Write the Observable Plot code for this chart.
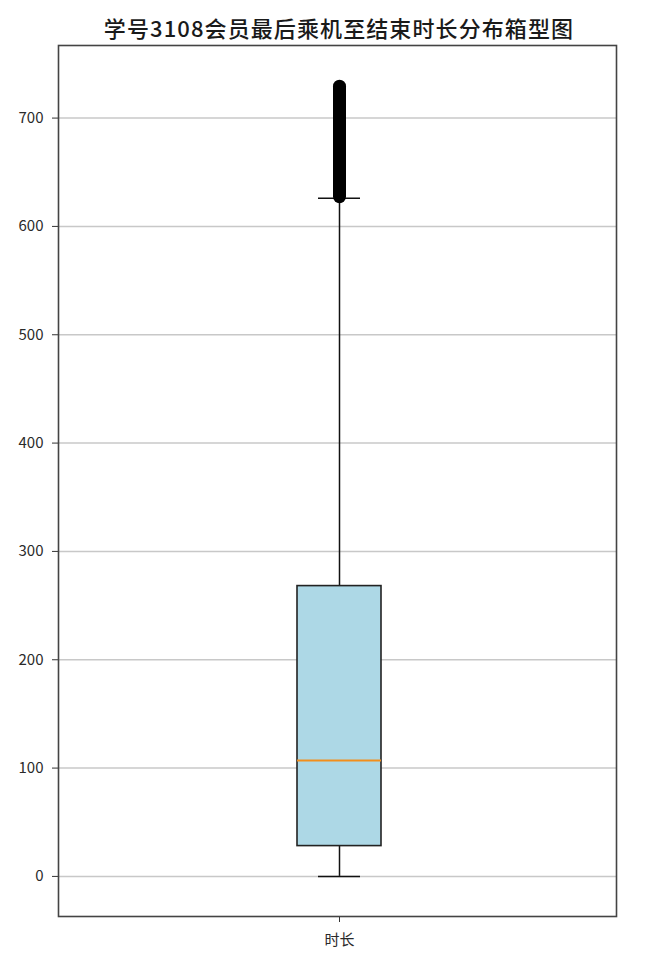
<!DOCTYPE html>
<html>
<head>
<meta charset="utf-8">
<script src="https://cdn.jsdelivr.net/npm/d3@7"></script>
<script src="https://cdn.jsdelivr.net/npm/@observablehq/plot@0.6"></script>
<style>
  body { margin: 0; background: #fff; }
  #title { height: 44px; width: 654px; text-align: center; font-family: "Noto Sans CJK SC", sans-serif; font-size: 22px; font-weight: 500; line-height: 22px; box-sizing: border-box; color: #1a1a1a; }
  #title span { position: relative; top: 16px; left: 12px; letter-spacing: 1.1px; }
</style>
</head>
<body>
<div id="title"><span>学号3108会员最后乘机至结束时长分布箱型图</span></div>
<div id="chart"></div>
<script>
const categories = ["时长"];
const q1 = [28];
const median = [107];
const q3 = [268];
const whiskerLow = [0];
const whiskerHigh = [626];
const outlierMin = [627];
const outlierMax = [729];
const yTicks = [0, 100, 200, 300, 400, 500, 600, 700];

const stats = categories.map((c, i) => ({
  cat: c, q1: q1[i], median: median[i], q3: q3[i],
  lo: whiskerLow[i], hi: whiskerHigh[i],
  oMin: outlierMin[i], oMax: outlierMax[i]
}));

const plot = Plot.plot({
  width: 654,
  height: 921,
  marginLeft: 58,
  marginRight: 38,
  marginTop: 1,
  marginBottom: 49,
  style: { fontFamily: "'Noto Sans CJK SC', sans-serif", fontSize: "15px", color: "#2a2a2a", background: "#fff" },
  x: { type: "band", domain: categories, paddingInner: 0, paddingOuter: 2.82, align: 0.504, label: null },
  y: { domain: [-37, 767], label: null },
  marks: [
    Plot.ruleY(yTicks, { stroke: "#c8c8c8", strokeWidth: 1.5 }),
    Plot.ruleX(stats, { x: "cat", y1: "lo", y2: "q1", stroke: "#111", strokeWidth: 1.5 }),
    Plot.ruleX(stats, { x: "cat", y1: "q3", y2: "hi", stroke: "#111", strokeWidth: 1.5 }),
    Plot.tickY(stats, { x: "cat", y: "lo", stroke: "#111", strokeWidth: 1.5, insetLeft: 21, insetRight: 21 }),
    Plot.tickY(stats, { x: "cat", y: "hi", stroke: "#111", strokeWidth: 1.5, insetLeft: 21, insetRight: 21 }),
    Plot.barY(stats, { x: "cat", y1: "q1", y2: "q3", fill: "#add8e6", stroke: "#222", strokeWidth: 1.6 }),
    Plot.tickY(stats, { x: "cat", y: "median", stroke: "#f28e1c", strokeWidth: 1.8 }),
    Plot.ruleX(stats, { x: "cat", y1: "oMin", y2: "oMax", stroke: "#000", strokeWidth: 13, strokeLinecap: "round" }),
    Plot.axisY({ ticks: yTicks, tickSize: 6, tickPadding: 9, stroke: "#333", fontSize: 15, label: null }),
    Plot.axisX({ tickSize: 6, tickPadding: 12, stroke: "#333", fontSize: 15, label: null }),
    Plot.frame({ stroke: "#444", strokeWidth: 1.6 })
  ]
});
document.getElementById("chart").appendChild(plot);
</script>
</body>
</html>
